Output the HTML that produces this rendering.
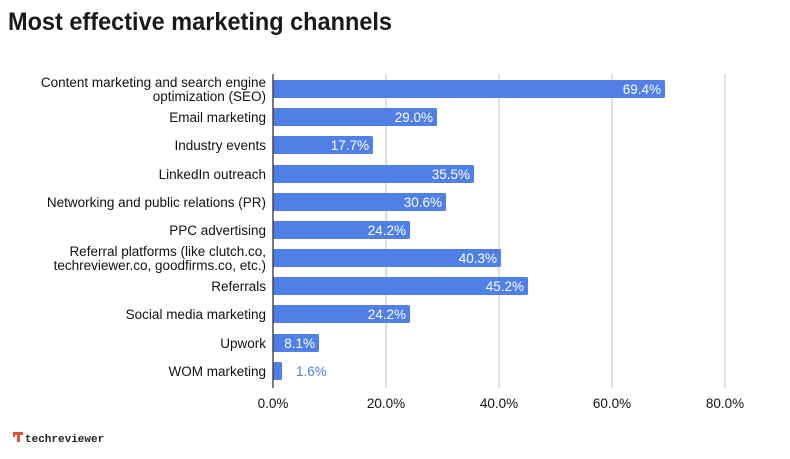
<!DOCTYPE html>
<html><head><meta charset="utf-8"><style>
html,body{margin:0;padding:0;background:#fff;}
body{width:790px;height:454px;overflow:hidden;}
</style></head><body>
<svg width="790" height="454" xmlns="http://www.w3.org/2000/svg" font-family="Liberation Sans, sans-serif">
<rect width="790" height="454" fill="#fff"/>
<text x="8" y="30" font-size="25" font-weight="bold" fill="#1a1a1a" textLength="384" lengthAdjust="spacingAndGlyphs">Most effective marketing channels</text>
<g stroke="#ccc" stroke-width="1.2">
<line x1="386" y1="74" x2="386" y2="388"/>
<line x1="499" y1="74" x2="499" y2="388"/>
<line x1="612" y1="74" x2="612" y2="388"/>
<line x1="725" y1="74" x2="725" y2="388"/>
</g>
<g fill="#5080e6">
<rect x="273" y="80" width="392" height="18" rx="1.5"/>
<rect x="273" y="108" width="164" height="18" rx="1.5"/>
<rect x="273" y="136" width="100" height="18" rx="1.5"/>
<rect x="273" y="165" width="201" height="18" rx="1.5"/>
<rect x="273" y="193" width="173" height="18" rx="1.5"/>
<rect x="273" y="221" width="137" height="18" rx="1.5"/>
<rect x="273" y="249" width="228" height="18" rx="1.5"/>
<rect x="273" y="277" width="255" height="18" rx="1.5"/>
<rect x="273" y="305" width="137" height="18" rx="1.5"/>
<rect x="273" y="334" width="46" height="18" rx="1.5"/>
<rect x="273" y="362" width="9" height="18" rx="1.5"/>
</g>
<line x1="273" y1="74" x2="273" y2="388" stroke="#333" stroke-width="1.3"/>
<g fill="#fff" font-size="13.5" text-anchor="end">
<text x="661" y="94">69.4%</text>
<text x="433" y="122">29.0%</text>
<text x="369" y="150">17.7%</text>
<text x="470" y="179">35.5%</text>
<text x="442" y="207">30.6%</text>
<text x="406" y="235">24.2%</text>
<text x="497" y="263">40.3%</text>
<text x="524" y="291">45.2%</text>
<text x="406" y="319">24.2%</text>
<text x="315" y="348">8.1%</text>
</g>
<text x="296" y="376" font-size="13.5" fill="#5080e6">1.6%</text>
<g fill="#111" font-size="13.5" text-anchor="end">
<text x="266" y="87">Content marketing and search engine</text>
<text x="266" y="101">optimization (SEO)</text>
<text x="266" y="122">Email marketing</text>
<text x="266" y="150">Industry events</text>
<text x="266" y="179">LinkedIn outreach</text>
<text x="266" y="207">Networking and public relations (PR)</text>
<text x="266" y="235">PPC advertising</text>
<text x="266" y="256">Referral platforms (like clutch.co,</text>
<text x="266" y="270">techreviewer.co, goodfirms.co, etc.)</text>
<text x="266" y="291">Referrals</text>
<text x="266" y="319">Social media marketing</text>
<text x="266" y="348">Upwork</text>
<text x="266" y="376">WOM marketing</text>
</g>
<g fill="#111" font-size="13.5" text-anchor="middle">
<text x="273" y="408">0.0%</text>
<text x="386" y="408">20.0%</text>
<text x="499" y="408">40.0%</text>
<text x="612" y="408">60.0%</text>
<text x="725" y="408">80.0%</text>
</g>
<g fill="#e0503c">
<rect x="13" y="432" width="10" height="3"/>
<rect x="17" y="432" width="3" height="10"/>
<rect x="13" y="432" width="2" height="5"/>
</g>
<text x="25" y="442" font-size="11" font-family="Liberation Mono, monospace" font-weight="bold" fill="#222">techreviewer</text>
</svg>
</body></html>
